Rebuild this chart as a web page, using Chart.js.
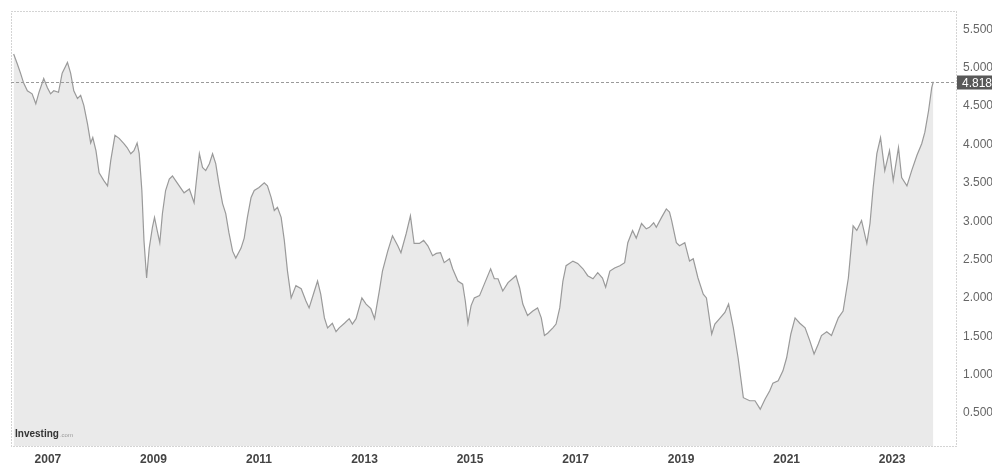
<!DOCTYPE html>
<html>
<head>
<meta charset="utf-8">
<script src="https://cdn.jsdelivr.net/npm/chart.js@4.4.0/dist/chart.umd.min.js"></script>
<style>
  html, body { margin: 0; padding: 0; background: #fff; }
  #wrap { position: relative; width: 992px; height: 467px; }
</style>
</head>
<body>
<div id="wrap"><canvas id="yieldChart"></canvas></div>
<script>
// decimal years
const years = [
  2006.35, 2006.42, 2006.48, 2006.54, 2006.61, 2006.70, 2006.77, 2006.83, 2006.92, 2006.99,
  2007.05, 2007.11, 2007.20, 2007.27, 2007.37, 2007.43, 2007.49, 2007.56, 2007.62, 2007.68, 2007.75, 2007.81, 2007.85, 2007.91, 2007.97,
  2008.06, 2008.13, 2008.19, 2008.27, 2008.35, 2008.44, 2008.50, 2008.57, 2008.63, 2008.69, 2008.73, 2008.78, 2008.82, 2008.87, 2008.92, 2008.98,
  2009.02, 2009.07, 2009.12, 2009.17, 2009.23, 2009.30, 2009.36, 2009.42, 2009.58, 2009.68, 2009.77, 2009.80, 2009.87, 2009.93, 2009.99,
  2010.06, 2010.12, 2010.18, 2010.24, 2010.31, 2010.37, 2010.43, 2010.50, 2010.56, 2010.66, 2010.72, 2010.78, 2010.85, 2010.91,
  2011.00, 2011.10, 2011.16, 2011.23, 2011.29, 2011.35, 2011.42, 2011.48, 2011.54, 2011.61, 2011.70, 2011.80, 2011.89, 2011.95,
  2012.05, 2012.11, 2012.17, 2012.24, 2012.30, 2012.39, 2012.46, 2012.52, 2012.62, 2012.71, 2012.77, 2012.84, 2012.95,
  2013.03, 2013.12, 2013.19, 2013.28, 2013.34, 2013.44, 2013.53, 2013.63, 2013.69, 2013.79, 2013.87, 2013.94,
  2014.04, 2014.12, 2014.20, 2014.29, 2014.36, 2014.44, 2014.51, 2014.61, 2014.67, 2014.77, 2014.86, 2014.91, 2014.96,
  2015.02, 2015.08, 2015.18, 2015.27, 2015.39, 2015.46, 2015.53, 2015.62, 2015.72, 2015.87, 2015.94,
  2016.00, 2016.09, 2016.19, 2016.28, 2016.35, 2016.41, 2016.47, 2016.57, 2016.63, 2016.70, 2016.76, 2016.82, 2016.95,
  2017.04, 2017.14, 2017.23, 2017.33, 2017.42, 2017.51, 2017.57, 2017.65, 2017.74, 2017.84, 2017.93, 2017.99,
  2018.08, 2018.15, 2018.25, 2018.34, 2018.40, 2018.48, 2018.53, 2018.63, 2018.72, 2018.78, 2018.82, 2018.91, 2018.97,
  2019.07, 2019.16, 2019.23, 2019.32, 2019.42, 2019.48, 2019.58, 2019.64, 2019.73, 2019.83, 2019.90, 2019.99,
  2020.08, 2020.18, 2020.30, 2020.40, 2020.50, 2020.59, 2020.68, 2020.74, 2020.84, 2020.93,
  2021.00, 2021.08, 2021.16, 2021.25, 2021.35, 2021.44, 2021.52, 2021.60, 2021.66, 2021.76, 2021.85, 2021.98,
  2022.07, 2022.17, 2022.26, 2022.33, 2022.42, 2022.52, 2022.58, 2022.64, 2022.71, 2022.78, 2022.86, 2022.95,
  2023.02, 2023.12, 2023.18, 2023.28, 2023.37, 2023.47, 2023.56, 2023.62, 2023.69, 2023.75, 2023.78
];

const yields = [
  5.18, 5.05, 4.93, 4.80, 4.70, 4.66, 4.53, 4.68, 4.86, 4.74,
  4.66, 4.70, 4.68, 4.93, 5.07, 4.93, 4.70, 4.60, 4.64, 4.51, 4.27, 4.02, 4.09, 3.92, 3.63,
  3.53, 3.46, 3.79, 4.12, 4.08, 4.01, 3.96, 3.88, 3.92, 4.02, 3.88, 3.40, 2.75, 2.26, 2.65, 2.92,
  3.05, 2.88, 2.72, 3.10, 3.40, 3.55, 3.59, 3.53, 3.37, 3.42, 3.24, 3.44, 3.88, 3.70, 3.66,
  3.75, 3.88, 3.75, 3.49, 3.23, 3.10, 2.85, 2.61, 2.52, 2.65, 2.78, 3.05, 3.31, 3.40,
  3.44, 3.50, 3.46, 3.31, 3.14, 3.18, 3.05, 2.75, 2.35, 2.00, 2.16, 2.12, 1.96, 1.87,
  2.09, 2.22, 2.05, 1.74, 1.61, 1.67, 1.56, 1.61, 1.67, 1.73, 1.66, 1.73, 2.00,
  1.92, 1.86, 1.73, 2.09, 2.35, 2.61, 2.81, 2.68, 2.59, 2.84, 3.07, 2.71,
  2.71, 2.75, 2.68, 2.55, 2.58, 2.59, 2.46, 2.51, 2.38, 2.22, 2.18, 1.96, 1.67,
  1.90, 2.00, 2.03, 2.18, 2.38, 2.25, 2.25, 2.09, 2.20, 2.29, 2.13,
  1.92, 1.77, 1.83, 1.87, 1.74, 1.51, 1.54, 1.61, 1.66, 1.87, 2.22, 2.42, 2.48,
  2.45, 2.38, 2.29, 2.25, 2.33, 2.26, 2.14, 2.35, 2.39, 2.42, 2.46, 2.72,
  2.88, 2.78, 2.97, 2.90, 2.92, 2.98, 2.92, 3.05, 3.16, 3.12, 3.01, 2.72, 2.68,
  2.72, 2.48, 2.51, 2.26, 2.05, 2.00, 1.53, 1.66, 1.73, 1.81, 1.92, 1.61,
  1.22, 0.70, 0.66, 0.66, 0.55, 0.68, 0.79, 0.89, 0.92, 1.05,
  1.22, 1.53, 1.74, 1.67, 1.61, 1.44, 1.27, 1.40, 1.51, 1.56, 1.51, 1.74,
  1.83, 2.26, 2.94, 2.88, 3.01, 2.71, 2.97, 3.44, 3.88, 4.09, 3.66, 3.92,
  3.53, 3.96, 3.57, 3.46, 3.66, 3.86, 4.01, 4.16, 4.44, 4.74, 4.818
];

const xTicks = [2007, 2009, 2011, 2013, 2015, 2017, 2019, 2021, 2023];
const yTicks = [0.5, 1.0, 1.5, 2.0, 2.5, 3.0, 3.5, 4.0, 4.5, 5.0, 5.5];
const lastValue = yields[yields.length - 1];

const points = years.map((yr, i) => ({ x: yr, y: yields[i] }));

// dotted frame, last-value line + badge, watermark
const overlay = {
  id: 'overlay',
  afterDraw(chart) {
    const { ctx, chartArea: a, scales: { y } } = chart;
    ctx.save();
    ctx.strokeStyle = '#a8a8a8';
    ctx.lineWidth = 1;
    ctx.setLineDash([1, 2]);
    ctx.strokeRect(a.left + 0.5, a.top + 0.5, a.right - a.left, a.bottom - a.top);

    const ly = Math.round(y.getPixelForValue(lastValue)) + 0.5;
    ctx.setLineDash([3, 2]);
    ctx.strokeStyle = '#9a9a9a';
    ctx.beginPath();
    ctx.moveTo(a.left, ly);
    ctx.lineTo(a.right, ly);
    ctx.stroke();

    ctx.setLineDash([]);
    ctx.fillStyle = '#585858';
    ctx.fillRect(a.right + 1, ly - 7, chart.width - a.right, 14);
    ctx.fillStyle = '#fff';
    ctx.font = '12px "Liberation Sans", Arial, sans-serif';
    ctx.textBaseline = 'middle';
    ctx.textAlign = 'left';
    ctx.fillText(lastValue.toFixed(3), a.right + 6, ly + 1);

    ctx.textBaseline = 'alphabetic';
    ctx.fillStyle = '#333';
    ctx.font = 'bold 10px "Liberation Sans", Arial, sans-serif';
    ctx.fillText('Investing', a.left + 4, a.bottom - 9);
    const w = ctx.measureText('Investing').width;
    ctx.fillStyle = '#999';
    ctx.font = '6px "Liberation Sans", Arial, sans-serif';
    ctx.fillText('.com', a.left + 5 + w, a.bottom - 9);
    ctx.restore();
  }
};

new Chart(document.getElementById('yieldChart'), {
  type: 'line',
  data: {
    datasets: [{
      data: points,
      borderColor: '#9a9a9a',
      borderWidth: 1.2,
      backgroundColor: '#eaeaea',
      fill: 'start',
      pointRadius: 0,
      tension: 0
    }]
  },
  options: {
    responsive: true,
    maintainAspectRatio: false,
    animation: false,
    events: [],
    layout: { padding: { left: 11, top: 11, right: 0, bottom: 0 } },
    plugins: { legend: { display: false }, tooltip: { enabled: false } },
    scales: {
      x: {
        type: 'linear',
        min: 2006.30,
        max: 2024.21,
        afterBuildTicks: s => { s.ticks = xTicks.map(v => ({ value: v })); },
        afterFit: s => { s.height = 21; s.paddingLeft = 0; s.paddingRight = 0; },
        grid: { display: false, drawTicks: false },
        border: { display: false },
        ticks: {
          padding: 6,
          maxRotation: 0,
          autoSkip: false,
          color: '#444',
          font: { family: '"Liberation Sans", Arial, sans-serif', size: 12, weight: 'bold' },
          callback: v => String(v)
        }
      },
      y: {
        position: 'right',
        min: 0.07,
        max: 5.74,
        afterBuildTicks: s => { s.ticks = yTicks.map(v => ({ value: v })); },
        afterFit: s => { s.width = 36; s.paddingTop = 0; s.paddingBottom = 0; },
        grid: { display: false, drawTicks: false },
        border: { display: false },
        ticks: {
          padding: 7,
          autoSkip: false,
          color: '#666',
          font: { family: '"Liberation Sans", Arial, sans-serif', size: 12 },
          callback: v => v.toFixed(3)
        }
      }
    }
  },
  plugins: [overlay]
});
</script>
</body>
</html>
